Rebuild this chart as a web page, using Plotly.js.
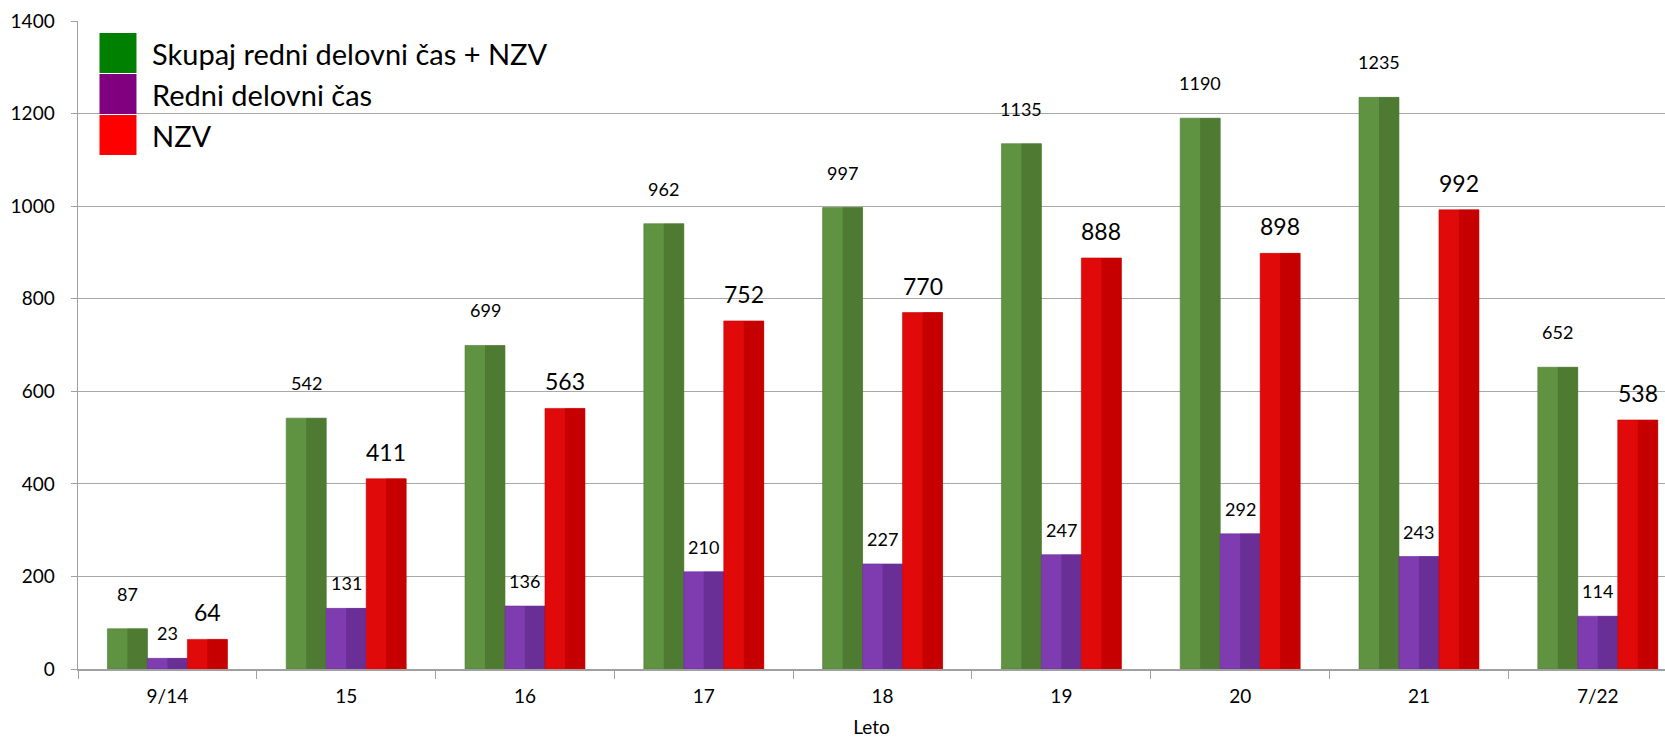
<!DOCTYPE html>
<html>
<head>
<meta charset="utf-8">
<script src="https://cdn.plot.ly/plotly-3.0.1.min.js"></script>
<style>html,body{margin:0;padding:0;background:#fff;}#chart{width:1665px;height:738px;}</style>
</head>
<body>
<div id="chart"></div>
<script>
// ---- data ----
const categories = ["9/14", "15", "16", "17", "18", "19", "20", "21", "7/22"];
const skupaj = [87, 542, 699, 962, 997, 1135, 1190, 1235, 652];
const redni = [23, 131, 136, 210, 227, 247, 292, 243, 114];
const nzv = [64, 411, 563, 752, 770, 888, 898, 992, 538];
const seriesNames = ["Skupaj redni delovni čas + NZV", "Redni delovni čas", "NZV"];
const yTicks = [0, 200, 400, 600, 800, 1000, 1200, 1400];

// ---- styles ----
const FONT = "Lato, 'Noto Sans', sans-serif";
const W = 1665, H = 738;
const M = {l: 77.5, r: 0, t: 21, b: 69};
const barW = 0.2236;
const series = [
  {vals: skupaj, light: "#5f9342", dark: "#4e7a32", legend: "#008000", lblSize: 18, lblShift: 35},
  {vals: redni, light: "#7e3cb0", dark: "#6a2e97", legend: "#800080", lblSize: 18, lblShift: 25},
  {vals: nzv, light: "#e00a0a", dark: "#c60000", legend: "#ff0000", lblSize: 23, lblShift: 27}
];

const traces = [];
const annotations = [];
series.forEach((s, k) => {
  const off = -1.5 * barW + k * barW;
  traces.push({
    type: "bar", x: categories, y: s.vals, name: seriesNames[k],
    offset: off, width: barW, showlegend: false, hoverinfo: "skip",
    marker: {color: s.light, line: {color: s.dark, width: 0.6}}
  });
  traces.push({
    type: "bar", x: categories, y: s.vals, name: seriesNames[k] + " ",
    offset: off + barW / 2, width: barW / 2, showlegend: false, hoverinfo: "skip",
    marker: {color: s.dark, line: {width: 0}}
  });
  s.vals.forEach((v, i) => {
    annotations.push({
      x: i + off + barW / 2, y: v, xref: "x", yref: "y",
      text: String(v), showarrow: false, yanchor: "middle", xanchor: "center",
      yshift: s.lblShift, font: {family: FONT, size: s.lblSize, color: "#000"}
    });
  });
});

// custom legend (large swatches like the original)
const pw = W - M.l - M.r, ph = H - M.t - M.b;
const px = x => (x - M.l) / pw;
const py = y => 1 - (y - M.t) / ph;
const shapes = [];
const legTop = 33, legRow = 41;
series.forEach((s, k) => {
  const y0 = legTop + k * legRow;
  shapes.push({type: "rect", xref: "paper", yref: "paper",
    x0: px(99), x1: px(136), y0: py(y0), y1: py(y0 + legRow - 1),
    fillcolor: s.legend, line: {width: 0}, layer: "above"});
  annotations.push({xref: "paper", yref: "paper", x: px(150), y: py(y0 + legRow / 2),
    xanchor: "left", yanchor: "middle", showarrow: false, text: seriesNames[k],
    font: {family: FONT, size: 29, color: "#000"}});
});

const layout = {
  width: W, height: H, margin: M,
  paper_bgcolor: "#fff", plot_bgcolor: "#fff",
  barmode: "overlay", showlegend: false,
  font: {family: FONT, size: 18, color: "#000"},
  xaxis: {
    type: "category", range: [-0.5, 8.376],
    showline: true, linecolor: "#a0a0a0", linewidth: 1.5,
    ticks: "outside", tickson: "boundaries", ticklen: 8, tickcolor: "#a0a0a0",
    ticklabelstandoff: 10,
    showgrid: false, zeroline: false,
    tickfont: {family: FONT, size: 19},
    title: {text: "Leto", font: {family: FONT, size: 19}, standoff: 20}
  },
  yaxis: {
    range: [0, 1400], tickvals: yTicks, ticktext: yTicks.map(String),
    showline: true, linecolor: "#a0a0a0", linewidth: 1.5,
    ticks: "outside", ticklen: 6, tickcolor: "#a0a0a0",
    ticklabelstandoff: 12,
    showgrid: true, gridcolor: "#a8a8a8", gridwidth: 1, zeroline: false,
    tickfont: {family: FONT, size: 19}
  },
  annotations: annotations,
  shapes: shapes
};

Plotly.newPlot("chart", traces, layout, {staticPlot: true, displayModeBar: false});
</script>
</body>
</html>
